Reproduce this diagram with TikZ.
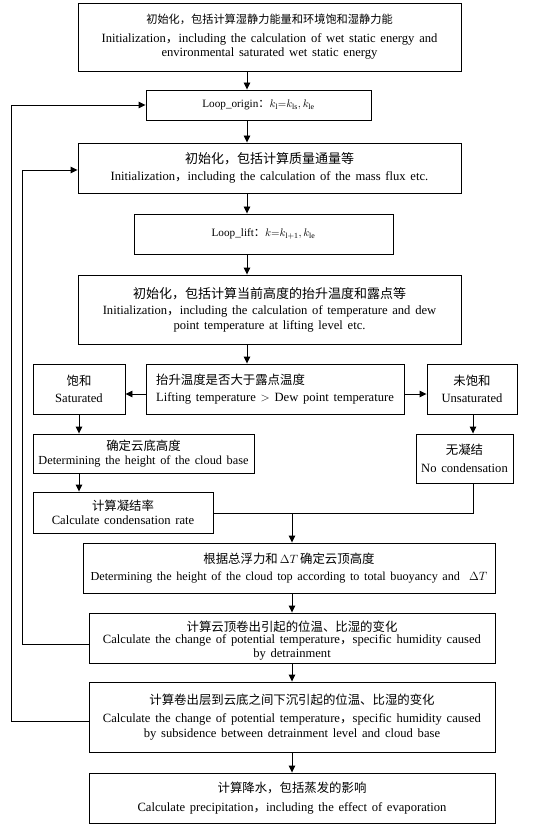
\documentclass[tikz,border=0pt]{standalone}
\usepackage{fontspec}
\setmainfont{Liberation Serif}[WordSpace={1.5}]
\newfontfamily\cjk{Noto Sans CJK SC}
\usetikzlibrary{arrows.meta,calc}
\newcommand{\zh}[1]{{\cjk #1}}
\newcommand{\zhA}[1]{{\cjk\fontsize{12.4}{14}\selectfont #1}}
\begin{document}
\begin{tikzpicture}[x=1pt,y=1pt,
  box/.style={draw,line width=0.9pt,inner sep=0pt,align=center,font=\fontsize{12.6}{14.5}\selectfont},
  arr/.style={line width=0.9pt,-{Triangle[length=7pt,width=6.5pt]}},
  ln/.style={line width=0.9pt}]
\useasboundingbox (0,0) rectangle (532,-826);
\coordinate (mx) at (247,0);
\coordinate (cx) at (292,0);
\coordinate (ux) at (473,0);
\coordinate (sx) at (79,0);

\node[box,minimum width=383,minimum height=68] (top) at (269.5,-37)
 {\zh{\fontsize{11.2}{14}\selectfont 初始化，包括计算湿静力能量和环境饱和湿静力能}\\[4pt]
  Initialization\zh{，}including the calculation of wet static energy and\\
  environmental saturated wet static energy};
\node[box,minimum width=225,minimum height=30,font=\fontsize{11.2}{14}\selectfont] (orig) at (258.5,-105)
 {Loop\_origin\zh{：}$k_{\mathrm{l}}{=}k_{\mathrm{ls}},k_{\mathrm{le}}$};
\node[box,minimum width=383,minimum height=50] (mass) at (269.5,-168)
 {\zh{\fontsize{13}{15}\selectfont 初始化，包括计算质量通量等}\\[2pt]
  Initialization\zh{，}including the calculation of the mass flux etc.};
\node[box,minimum width=259,minimum height=40,font=\fontsize{11.2}{14}\selectfont] (lift) at (263.5,-234)
 {Loop\_lift\zh{：}$k{=}k_{\mathrm{l+1}},k_{\mathrm{le}}$};
\node[box,minimum width=383,minimum height=69] (lev) at (269.5,-309.5)
 {\zh{\fontsize{13}{15}\selectfont 初始化，包括计算当前高度的抬升温度和露点等}\\[2pt]
  Initialization\zh{，}including the calculation of temperature and dew\\
  point temperature at lifting level etc.};
\node[box,minimum width=92,minimum height=50] (sat) at (79,-389)
 {\zhA{饱和}\\[3pt] Saturated};
\node[box,minimum width=258,minimum height=50,align=left] (dec) at (275,-389)
 {\zhA{抬升温度是否大于露点温度}\\[2pt]
  Lifting temperature $>$ Dew point temperature};
\node[box,minimum width=90,minimum height=50] (unsat) at (472,-389)
 {\zhA{未饱和}\\[3pt] Unsaturated};
\node[box,minimum width=221,minimum height=39,font=\fontsize{12.3}{14.5}\selectfont] (base) at (143.5,-453.5)
 {\zhA{确定云底高度}\\
  Determining the height of the cloud base};
\node[box,minimum width=97,minimum height=49] (nocond) at (464.5,-458.5)
 {\zhA{无凝结}\\[3pt] No condensation};
\node[box,minimum width=180,minimum height=41] (cond) at (123,-512.5)
 {\zhA{计算凝结率}\\[-1pt]
  Calculate condensation rate};
\node[box,minimum width=412,minimum height=50,font=\fontsize{12.2}{14.5}\selectfont] (ctop) at (289,-568)
 {\zhA{根据总浮力和}\,$\Delta T$\,\zhA{确定云顶高度}\\[3pt]
  Determining the height of the cloud top according to total buoyancy and \ $\Delta T$};
\node[box,minimum width=406,minimum height=50] (detr) at (292,-638)
 {\rule{0pt}{16pt}\zhA{计算云顶卷出引起的位温、比湿的变化}\\[-3pt]
  Calculate the change of potential temperature\zh{，}specific humidity caused\\
  by detrainment};
\node[box,minimum width=406,minimum height=70] (subs) at (292,-717)
 {\zhA{计算卷出层到云底之间下沉引起的位温、比湿的变化}\\[4pt]
  Calculate the change of potential temperature\zh{，}specific humidity caused\\
  by subsidence between detrainment level and cloud base};
\node[box,minimum width=406,minimum height=50] (prec) at (292,-798)
 {\zhA{计算降水，包括蒸发的影响}\\[4pt]
  Calculate precipitation\zh{，}including the effect of evaporation};

% main flow
\draw[arr] (top.south -| mx) -- (orig.north -| mx);
\draw[arr] (orig.south -| mx) -- (mass.north -| mx);
\draw[arr] (mass.south -| mx) -- (lift.north -| mx);
\draw[arr] (lift.south -| mx) -- (lev.north -| mx);
\draw[arr] (lev.south -| mx) -- (dec.north -| mx);
\draw[arr] ([yshift=-5pt]dec.west) -- ([yshift=-5pt]sat.east);
\draw[arr] ([yshift=-5pt]dec.east) -- ([yshift=-5pt]unsat.west);
\draw[arr] (sat.south) -- (base.north -| sat.south);
\draw[arr] (base.south -| sx) -- (cond.north -| sx);
\draw[arr] (unsat.south -| ux) -- (nocond.north -| ux);
\coordinate (j) at (292,-513);
\draw[ln] (cond.east |- j) -- (j -| ux) -- (nocond.south -| ux);
\draw[arr] (j) -- (ctop.north -| cx);
\draw[arr] (ctop.south -| cx) -- (detr.north -| cx);
\draw[arr] (detr.south -| cx) -- (subs.north -| cx);
\draw[arr] (subs.south -| cx) -- (prec.north -| cx);
% loops
\coordinate (lo) at (11,0);
\coordinate (li) at (22,0);
\draw[arr] ([yshift=-4pt]subs.west) -| (lo |- orig.west) -- (orig.west);
\draw[arr] ([yshift=-6pt]detr.west) -| ([yshift=-2pt]li |- mass.west) -- ([yshift=-2pt]mass.west);
\end{tikzpicture}
\end{document}
